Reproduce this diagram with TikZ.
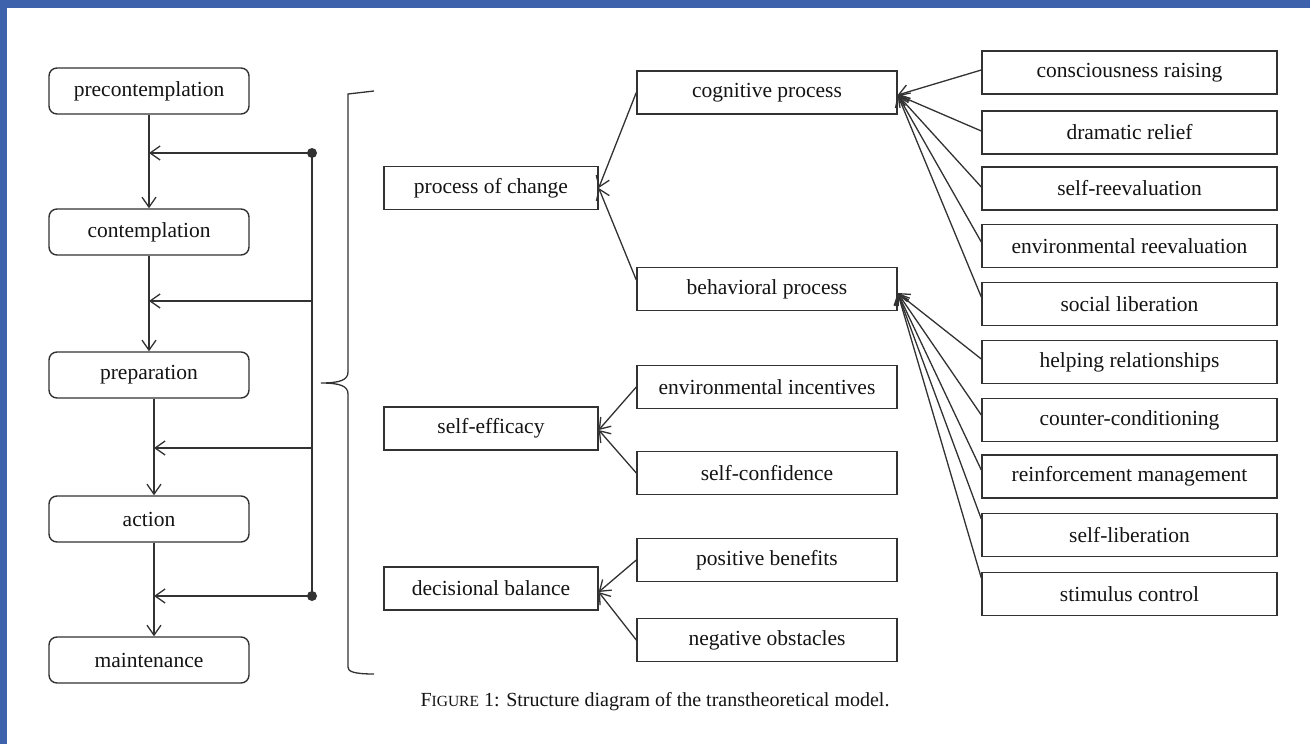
\documentclass[tikz,border=0pt]{standalone}
\usepackage{fontspec}
\setmainfont{Liberation Serif}
\usetikzlibrary{arrows.meta}
\definecolor{frameblue}{RGB}{62,98,172}
\definecolor{linec}{RGB}{50,50,50}
\definecolor{textc}{RGB}{20,20,20}
\begin{document}
\begin{tikzpicture}[x=1pt,y=-1pt,
  every node/.style={text=textc, font=\fontsize{21.5}{24}\selectfont},
  basebox/.style={draw=linec, line width=1.4pt, inner sep=0pt, minimum height=43pt},
  rbox/.style={basebox, rounded corners=8pt, minimum width=200pt, minimum height=46pt},
  midbox/.style={basebox, minimum width=214pt},
  subbox/.style={basebox, minimum width=260pt},
  leafbox/.style={basebox, minimum width=295pt},
  conn/.style={draw=linec, line width=1.3pt, -{Straight Barb[length=10pt,width=14pt]}},
  plain/.style={draw=linec, line width=1.3pt},
  dotc/.style={fill=linec, circle, inner sep=0pt, minimum size=10pt}
]
\useasboundingbox (0,0) rectangle (1310,744);
\fill[white] (0,0) rectangle (1310,744);
\fill[frameblue] (0,0) rectangle (1310,8);
\fill[frameblue] (0,0) rectangle (7,744);

% stages
\node[rbox] (pre) at (149,91) {precontemplation};
\node[rbox] (con) at (149,232) {contemplation};
\node[rbox] (prep) at (149,375) {preparation};
\node[rbox] (act) at (149,519) {action};
\node[rbox] (mai) at (149,660) {maintenance};

\draw[conn] (pre.south) -- (con.north);
\draw[conn] (con.south) -- (prep.north);
\draw[conn] ([xshift=5pt]prep.south) -- ([xshift=5pt]act.north);
\draw[conn] ([xshift=5pt]act.south) -- ([xshift=5pt]mai.north);

% feedback bus
\coordinate (f1) at (312,153);
\coordinate (f2) at (312,301);
\coordinate (f3) at (312,448);
\coordinate (f4) at (312,596);
\coordinate (t1) at (149,153);
\coordinate (t2) at (149,301);
\coordinate (t3) at (154,448);
\coordinate (t4) at (154,596);
\draw[plain] (f1) -- (f4);
\draw[conn] (f1) -- (t1);
\draw[conn] (f2) -- (t2);
\draw[conn] (f3) -- (t3);
\draw[conn] (f4) -- (t4);
\node[dotc] (d1) at (f1) {};
\node[dotc] (d4) at (f4) {};

% brace
\draw[plain, line join=miter] (374,91) -- (348,94) -- (348,372)
  .. controls (348,380) and (340,383) .. (321,383)
  .. controls (340,383) and (348,386) .. (348,394)
  -- (348,667) .. controls (348,671) and (352,674) .. (374,674);

% middle column
\node[midbox] (pc) at (491,188) {process of change};
\node[midbox] (se) at (491,428.5) {self-efficacy};
\node[midbox] (db) at (491,588.5) {decisional balance};

% third column
\node[subbox] (cog) at (767,92.5) {cognitive process};
\node[subbox] (beh) at (767,289) {behavioral process};
\node[subbox] (ei) at (767,387) {environmental incentives};
\node[subbox] (sc) at (767,473) {self-confidence};
\node[subbox] (pb) at (767,560) {positive benefits};
\node[subbox] (no) at (767,640) {negative obstacles};

% right column
\node[leafbox] (cr) at (1129.5,72.5) {consciousness raising};
\node[leafbox] (dr) at (1129.5,132.5) {dramatic relief};
\node[leafbox] (sr) at (1129.5,188.5) {self-reevaluation};
\node[leafbox] (er) at (1129.5,246) {environmental reevaluation};
\node[leafbox] (sl) at (1129.5,304) {social liberation};
\node[leafbox] (hr) at (1129.5,362) {helping relationships};
\node[leafbox] (cc) at (1129.5,420) {counter-conditioning};
\node[leafbox] (rm) at (1129.5,476.5) {reinforcement management};
\node[leafbox] (sli) at (1129.5,535) {self-liberation};
\node[leafbox] (stc) at (1129.5,594) {stimulus control};

% connectors to process of change
\draw[conn] (cog.west) -- (pc.east);
\draw[conn] ([yshift=9pt]beh.west) -- (pc.east);
\draw[conn] (ei.west) -- ([yshift=-1.5pt]se.east);
\draw[conn] (sc.west) -- ([yshift=-1.5pt]se.east);
\draw[conn] (pb.west) -- ([yshift=-3.5pt]db.east);
\draw[conn] (no.west) -- ([yshift=-3.5pt]db.east);

% cognitive group
\draw[conn] ([yshift=2.5pt]cr.west) -- ([yshift=-2.5pt]cog.east);
\draw[conn] ([yshift=1.5pt]dr.west) -- ([yshift=-2.5pt]cog.east);
\draw[conn] ([yshift=1.5pt]sr.west) -- ([yshift=-2.5pt]cog.east);
\draw[conn] ([yshift=4pt]er.west) -- ([yshift=-2.5pt]cog.east);
\draw[conn] ([yshift=7pt]sl.west) -- ([yshift=-2.5pt]cog.east);

% behavioral group
\draw[conn] ([yshift=3pt]hr.west) -- ([yshift=-4pt]beh.east);
\draw[conn] ([yshift=5pt]cc.west) -- ([yshift=-4pt]beh.east);
\draw[conn] ([yshift=6.5pt]rm.west) -- ([yshift=-4pt]beh.east);
\draw[conn] ([yshift=16pt]sli.west) -- ([yshift=-4pt]beh.east);
\draw[conn] ([yshift=16pt]stc.west) -- ([yshift=-4pt]beh.east);

% caption
\node[font=\fontsize{20}{23}\selectfont] (cap) at (655,702) {F{\fontsize{15.5}{18}\selectfont IGURE} 1: Structure diagram of the transtheoretical model.};
\end{tikzpicture}
\end{document}
